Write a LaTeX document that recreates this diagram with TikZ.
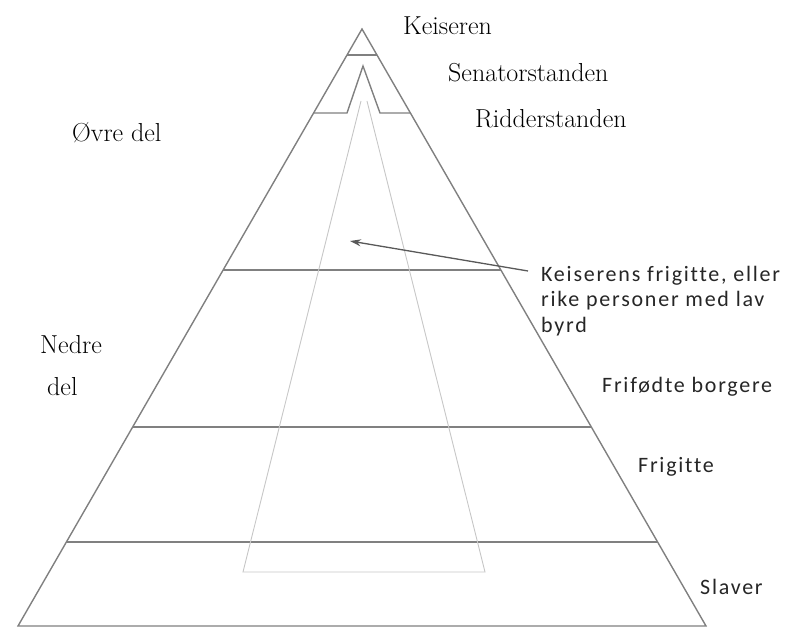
\documentclass[tikz,border=0pt]{standalone}
\usepackage{fontspec}
\newfontfamily\calibfont[LetterSpace=8,Ligatures=NoCommon]{Carlito}
\usepackage{tikz}
\usetikzlibrary{arrows.meta}

\begin{document}
\begin{tikzpicture}[x=1pt,y=-1pt,
        tier/.style={draw=black!50,line width=1.4pt},
        faint/.style={draw=black!22,line width=0.9pt},
        pointer/.style={-{Stealth[length=11pt,width=7pt]},draw=black!65,fill=black!65,line width=1.3pt},
        serif label/.style={anchor=base west,inner sep=0pt,text=black,
            font=\fontsize{26}{28}\selectfont},
        sans label/.style={inner sep=0pt,text=black!85,align=left,
            font=\calibfont\fontsize{22}{25.5}\selectfont}]
    \useasboundingbox (0,0) rectangle (806,628);
    % pyramid and its tiers
    \draw[tier] (18,626) -- (362,29) -- (706,626) -- cycle;
    \draw[tier] (347,55) -- (377,55);
    \draw[tier] (314,113) -- (347,113) -- (363,66) -- (380,113) -- (410,113);
    \foreach \y in {270,427,542}
        \draw[tier] ({362-0.576*(\y-29)},\y) -- ({362+0.576*(\y-29)},\y);
    \draw[faint] (361,101) -- (243,572) -- (485,572) -- (367,101);
    % labels
    \node[serif label] (emperor) at (403,35) {Keiseren};
    \node[serif label] (senators) at (448,82) {Senatorstanden};
    \node[serif label] (knights) at (475,128) {Ridderstanden};
    \node[serif label] (upper) at (72,142) {Øvre del};
    \node[serif label] (lower) at (40,353) {Nedre};
    \node[serif label] (lowerb) at (47,395) {del};
    \node[sans label,anchor=north west] (freed) at (541,266)
        {Keiserens frigitte, eller\\rike personer med lav\\byrd};
    \node[sans label,anchor=base west] (citizens) at (602,392) {Frifødte borgere};
    \node[sans label,anchor=base west] (freedmen) at (638,472) {Frigitte};
    \node[sans label,anchor=base west] (slaves) at (700,594) {Slaver};
    % arrow
    \coordinate (tail) at (528,271);
    \coordinate (tip) at (350,241);
    \draw[pointer] (tail) -- (tip);
\end{tikzpicture}
\end{document}
